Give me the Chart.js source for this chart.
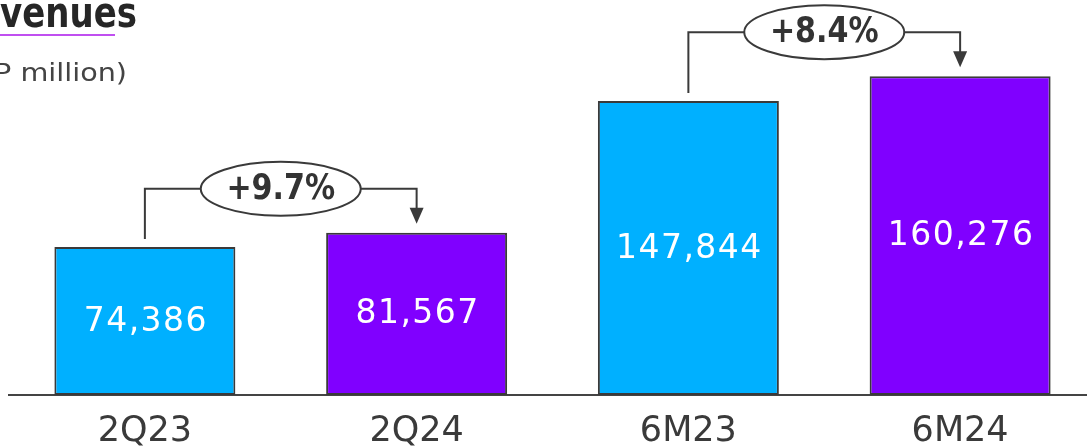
<!DOCTYPE html>
<html>
<head>
<meta charset="utf-8">
<script src="https://cdn.jsdelivr.net/npm/chart.js@4"></script>
<style>
  html, body { margin: 0; padding: 0; background: #fff; overflow: hidden; }
  #wrap { width: 1096px; height: 446px; }
</style>
</head>
<body>
<div id="wrap"><canvas id="revChart" width="1096" height="446"></canvas></div>
<script>
// chart data
const categories = ['2Q23', '2Q24', '6M23', '6M24'];
const revenues = [74386, 81567, 147844, 160276];
const barColors = ['#00B0FF', '#8000FF', '#00B0FF', '#8000FF'];
const growthPairs = [[0, 1], [2, 3]];
const growthLabels = ['+9.7%', '+8.4%'];
const titleText = 'Revenues';
const unitText = '(PHP million)';

const FONT = '"DejaVu Sans", sans-serif';
const INK = '#3a3a3a';

// draw text squeezed horizontally (the slide font is narrower than DejaVu bold)
function fillSqueezed(ctx, text, x, y, sx) {
  ctx.save();
  ctx.translate(x, y);
  ctx.scale(sx, 1);
  ctx.fillText(text, 0, 0);
  ctx.restore();
}

// numbers inside the bars
const valueLabels = {
  id: 'valueLabels',
  afterDatasetsDraw(chart) {
    const ctx = chart.ctx;
    const bars = chart.getDatasetMeta(0).data;
    ctx.save();
    ctx.fillStyle = '#fff';
    ctx.font = '33px ' + FONT;
    ctx.textAlign = 'center';
    ctx.textBaseline = 'middle';
    ctx.letterSpacing = '1.5px';
    bars.forEach((bar, i) => {
      ctx.fillText(revenues[i].toLocaleString('en-US'), bar.x + 1, (bar.y + bar.base) / 2 + 1);
    });
    ctx.restore();
  }
};

// bracket + ellipse + arrow between two bars
const growthArrows = {
  id: 'growthArrows',
  afterDatasetsDraw(chart) {
    const ctx = chart.ctx;
    const bars = chart.getDatasetMeta(0).data;
    ctx.save();
    ctx.lineWidth = 2;
    growthPairs.forEach(([a, b], k) => {
      const p = bars[a], q = bars[b];
      const yL = Math.min(p.y, q.y) - 44;
      const cx = (p.x + q.x) / 2;
      ctx.strokeStyle = INK;
      ctx.fillStyle = INK;
      ctx.beginPath();
      ctx.moveTo(p.x, p.y - 8);
      ctx.lineTo(p.x, yL);
      ctx.lineTo(q.x, yL);
      ctx.lineTo(q.x, q.y - 24);
      ctx.stroke();
      ctx.beginPath();
      ctx.moveTo(q.x - 7, q.y - 25);
      ctx.lineTo(q.x + 7, q.y - 25);
      ctx.lineTo(q.x, q.y - 9);
      ctx.closePath();
      ctx.fill();
      ctx.beginPath();
      ctx.ellipse(cx, yL, 80, 27, 0, 0, Math.PI * 2);
      ctx.fillStyle = '#fff';
      ctx.fill();
      ctx.stroke();
      ctx.fillStyle = '#333';
      ctx.font = 'bold 35px ' + FONT;
      ctx.textAlign = 'center';
      ctx.textBaseline = 'middle';
      fillSqueezed(ctx, growthLabels[k], cx, yL + 1, 0.86);
    });
    ctx.restore();
  }
};

// title block, cropped at the left like the source slide
const titleBlock = {
  id: 'titleBlock',
  afterDraw(chart) {
    const ctx = chart.ctx;
    ctx.save();
    ctx.textAlign = 'right';
    ctx.textBaseline = 'alphabetic';
    ctx.fillStyle = '#262626';
    ctx.font = 'bold 43px ' + FONT;
    // fit the visible part "venues" into x 0..137
    const sxT = 137 / ctx.measureText(titleText.slice(2)).width;
    fillSqueezed(ctx, titleText, 137, 27, sxT);
    ctx.strokeStyle = '#C04FF0';
    ctx.lineWidth = 2;
    ctx.beginPath();
    ctx.moveTo(-100, 35);
    ctx.lineTo(115, 35);
    ctx.stroke();
    ctx.fillStyle = '#444';
    ctx.font = '25px ' + FONT;
    // visible part "P million)" runs from about x -6 to 127
    const sxU = 133 / ctx.measureText(unitText.slice(3)).width;
    fillSqueezed(ctx, unitText, 127, 81, sxU);
    ctx.restore();
  }
};

new Chart(document.getElementById('revChart'), {
  type: 'bar',
  data: {
    labels: categories,
    datasets: [{
      data: revenues,
      backgroundColor: barColors,
      borderColor: INK,
      borderWidth: 2,
      borderSkipped: false,
      barPercentage: 0.666,
      categoryPercentage: 1
    }]
  },
  options: {
    responsive: false,
    animation: false,
    layout: { padding: { left: 9, right: 0, top: 0, bottom: 0 } },
    plugins: { legend: { display: false }, tooltip: { enabled: false } },
    scales: {
      x: {
        grid: { display: false },
        border: { display: true, color: '#444', width: 2 },
        ticks: { color: INK, padding: 8, font: { family: FONT, size: 35 } },
        afterFit(scale) { scale.height = 51; }
      },
      y: { display: false, min: 0, max: 198600 }
    }
  },
  plugins: [valueLabels, growthArrows, titleBlock]
});
</script>
</body>
</html>
